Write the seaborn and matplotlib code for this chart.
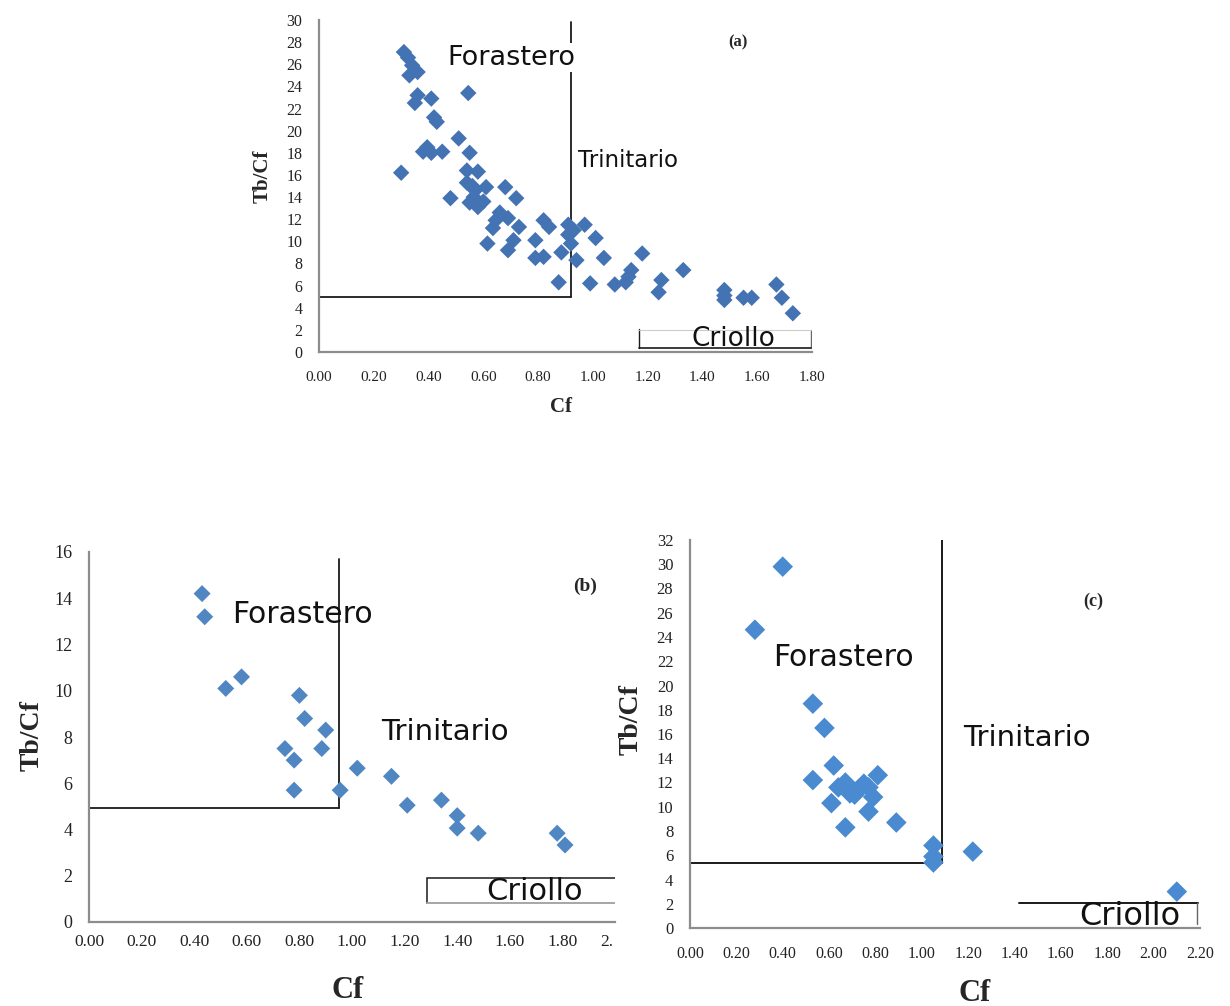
import matplotlib
matplotlib.use("Agg")
import matplotlib.pyplot as plt
import seaborn as sns
import pandas as pd
import numpy as np
from matplotlib.patches import Rectangle

# ---------------- data ----------------
a_cf = [0.31, 0.325, 0.34, 0.36, 0.33, 0.36, 0.35, 0.41, 0.42, 0.43, 0.545, 0.395, 0.38, 0.41,
        0.45, 0.51, 0.55, 0.30, 0.54, 0.58, 0.48, 0.54, 0.57, 0.61, 0.55, 0.58, 0.565, 0.68,
        0.72, 0.66, 0.645, 0.69, 0.635, 0.73, 0.71, 0.615, 0.69, 0.82, 0.84, 0.79, 0.79, 0.82,
        0.885, 0.91, 0.91, 0.92, 0.94, 0.97, 1.01, 1.04, 0.875, 0.99, 1.08, 1.18, 1.14, 1.13,
        1.12, 1.25, 1.24, 1.33, 1.48, 1.48, 1.48, 1.55, 1.58, 1.67, 1.69, 1.73, 0.60, 0.56, 0.93]
a_tb = [27.1, 26.6, 25.9, 25.3, 25.0, 23.2, 22.5, 22.9, 21.2, 20.8, 23.4, 18.5, 18.1, 18.0,
        18.1, 19.3, 18.0, 16.2, 16.4, 16.3, 13.9, 15.3, 14.6, 14.9, 13.5, 13.1, 14.0, 14.9,
        13.9, 12.6, 11.9, 12.1, 11.2, 11.3, 10.1, 9.8, 9.2, 11.9, 11.3, 10.1, 8.5, 8.6,
        9.0, 11.5, 10.6, 9.8, 8.3, 11.5, 10.3, 8.5, 6.3, 6.2, 6.1, 8.9, 7.4, 6.8,
        6.3, 6.5, 5.4, 7.4, 5.6, 4.7, 5.1, 4.9, 4.9, 6.1, 4.9, 3.5, 13.6, 15.0, 11.0]

b_cf = [0.43, 0.44, 0.52, 0.58, 0.80, 0.82, 0.90, 0.745, 0.78, 0.885, 0.78, 0.955, 1.02, 1.15,
        1.21, 1.34, 1.40, 1.40, 1.48, 1.78, 1.81]
b_tb = [14.2, 13.2, 10.1, 10.6, 9.8, 8.8, 8.3, 7.5, 7.0, 7.5, 5.7, 5.7, 6.65, 6.3,
        5.05, 5.27, 4.6, 4.06, 3.84, 3.84, 3.33]

c_cf = [0.40, 0.28, 0.53, 0.58, 0.62, 0.53, 0.81, 0.61, 0.67, 0.69, 0.73, 0.77, 0.79, 0.77,
        0.67, 0.89, 1.05, 1.05, 1.05, 1.22, 2.10, 0.64, 0.71, 0.75]
c_tb = [29.8, 24.6, 18.5, 16.5, 13.4, 12.2, 12.6, 10.3, 12.0, 11.1, 11.5, 11.6, 10.8, 9.6,
        8.3, 8.7, 6.8, 5.9, 5.4, 6.3, 3.0, 11.6, 11.0, 11.9]

# classification boundary lines (data units)
a_vline_x, a_hline_y, a_top = 0.92, 5.0, 29.8
b_vline_x, b_hline_y, b_top = 0.95, 4.92, 15.7
c_vline_x, c_hline_y, c_top = 1.086, 5.4, 32.0

groups = ["Forastero", "Trinitario", "Criollo"]
panel_tags = ["(a)", "(b)", "(c)"]

# ---------------- style ----------------
sns.set_theme(style="white")
plt.rcParams['font.family'] = ['Liberation Serif', 'DejaVu Serif']
SANS = ['DejaVu Sans']

fig = plt.figure(figsize=(12.3, 10.06), dpi=100)
W, H = 1230, 1006


def px_axes(x0, x1, y_top, y_bot):
    return fig.add_axes([x0 / W, 1 - y_bot / H, (x1 - x0) / W, (y_bot - y_top) / H])


axA = px_axes(319, 812, 20, 352)
axB = px_axes(89, 615, 552, 922)
axC = px_axes(690, 1200, 540, 928)

spine_col = "#8c8c8c"
line_col = "#1a1a1a"


def style_axes(ax, xmax, ymax, ystep, xstep, xfs, yfs, ticks_visible, xpad, ypad):
    ax.set_xlim(0, xmax)
    ax.set_ylim(0, ymax)
    ax.set_xticks(np.round(np.arange(0, xmax + 1e-6, xstep), 2))
    ax.set_yticks(np.arange(0, ymax + 1e-6, ystep))
    ax.xaxis.set_major_formatter(matplotlib.ticker.FormatStrFormatter('%.2f'))
    for s in ["top", "right"]:
        ax.spines[s].set_visible(False)
    for s in ["left", "bottom"]:
        ax.spines[s].set_color(spine_col)
        ax.spines[s].set_linewidth(1.6)
    ax.tick_params(axis='x', labelsize=xfs, colors="#222222", pad=xpad,
                   length=4 if ticks_visible else 0, direction='inout', width=1)
    ax.tick_params(axis='y', labelsize=yfs, colors="#222222", pad=ypad,
                   length=5 if ticks_visible else 0, direction='out', width=1)
    ax.grid(False)
    ax.set_facecolor("white")


# ---------------- panel (a) ----------------
dfa = pd.DataFrame({"Cf": a_cf, "Tb/Cf": a_tb})
sns.scatterplot(data=dfa, x="Cf", y="Tb/Cf", ax=axA, marker="D", s=70,
                color="#4473b4", edgecolor="none", zorder=3)
style_axes(axA, 1.8, 30, 2, 0.2, 11, 11.5, False, 14, 12)
axA.plot([0, a_vline_x], [a_hline_y, a_hline_y], color=line_col, lw=1.3, zorder=2)
axA.plot([a_vline_x, a_vline_x], [a_hline_y, a_top], color=line_col, lw=1.3, zorder=2)
axA.text(0.47, 26.6, groups[0], fontsize=19.5, family=SANS, va='center',
         color="#111111", zorder=4,
         bbox=dict(facecolor='white', edgecolor='none', pad=1))
axA.text(0.947, 17.3, groups[1], fontsize=16.5, family=SANS, va='center',
         color="#111111", zorder=4)
axA.plot([1.17, 1.17], [0.35, 2.1], color=line_col, lw=1.0)
axA.plot([1.795, 1.795], [0.35, 2.0], color="#666666", lw=1.0)
axA.plot([1.17, 1.795], [0.35, 0.35], color=line_col, lw=1.2)
axA.plot([1.17, 1.795], [2.0, 2.0], color="#cccccc", lw=0.8)
axA.text(1.36, 1.15, groups[2], fontsize=19, family=SANS, va='center',
         color="#111111")
axA.text(1.53, 28.0, panel_tags[0], fontsize=12, fontweight='bold', ha='center', va='center')
axA.set_xlabel("Cf", fontsize=15, fontweight='bold')
axA.set_ylabel("Tb/Cf", fontsize=15, fontweight='bold')
axA.xaxis.set_label_coords(0.49, -0.135)
axA.yaxis.set_label_coords(-0.095, 0.53)

# ---------------- panel (b) ----------------
dfb = pd.DataFrame({"Cf": b_cf, "Tb/Cf": b_tb})
sns.scatterplot(data=dfb, x="Cf", y="Tb/Cf", ax=axB, marker="D", s=75,
                color="#5087c2", edgecolor="none", zorder=3)
style_axes(axB, 2.0, 16, 2, 0.2, 12.5, 13, True, 7, 7)
axB.plot([0, b_vline_x], [b_hline_y, b_hline_y], color=line_col, lw=1.3, zorder=2)
axB.plot([b_vline_x, b_vline_x], [b_hline_y, b_top], color=line_col, lw=1.3, zorder=2)
axB.text(0.545, 13.3, groups[0], fontsize=21.5, family=SANS, va='center',
         color="#111111")
axB.text(1.11, 8.2, groups[1], fontsize=21, family=SANS, va='center',
         color="#111111")
axB.add_patch(Rectangle((1.285, 0.82), 0.75, 1.08, fill=False, edgecolor=line_col,
                        lw=1.1, clip_on=True))
axB.plot([1.285, 2.0], [0.82, 0.82], color="#bbbbbb", lw=1.2)
axB.text(1.51, 1.32, groups[2], fontsize=22, family=SANS, va='center',
         color="#111111")
axB.text(1.885, 14.5, panel_tags[1], fontsize=14, fontweight='bold', ha='center', va='center')
axB.set_xlabel("Cf", fontsize=22, fontweight='bold')
axB.set_ylabel("Tb/Cf", fontsize=20, fontweight='bold')
axB.xaxis.set_label_coords(0.492, -0.145)
axB.yaxis.set_label_coords(-0.085, 0.505)

# ---------------- panel (c) ----------------
dfc = pd.DataFrame({"Cf": c_cf, "Tb/Cf": c_tb})
sns.scatterplot(data=dfc, x="Cf", y="Tb/Cf", ax=axC, marker="D", s=110,
                color="#4a8ad0", edgecolor="none", zorder=3)
style_axes(axC, 2.2, 32, 2, 0.2, 11.5, 12, False, 13, 12)
axC.plot([0, c_vline_x], [c_hline_y, c_hline_y], color=line_col, lw=1.4, zorder=2)
axC.plot([c_vline_x, c_vline_x], [c_hline_y, c_top], color=line_col, lw=1.4, zorder=2)
axC.text(0.36, 22.3, groups[0], fontsize=21.5, family=SANS, va='center',
         color="#111111")
axC.text(1.18, 15.7, groups[1], fontsize=21, family=SANS, va='center',
         color="#111111")
axC.plot([1.42, 2.19], [2.06, 2.06], color=line_col, lw=1.4)
axC.plot([2.185, 2.185], [0.3, 2.06], color="#666666", lw=1.0)
axC.text(1.68, 0.95, groups[2], fontsize=23, family=SANS, va='center',
         color="#111111")
axC.text(1.74, 26.9, panel_tags[2], fontsize=13, fontweight='bold', ha='center', va='center')
axC.set_xlabel("Cf", fontsize=22, fontweight='bold')
axC.set_ylabel("Tb/Cf", fontsize=20, fontweight='bold')
axC.xaxis.set_label_coords(0.559, -0.132)
axC.yaxis.set_label_coords(-0.09, 0.536)

# crop of the (b) x-axis at the right edge, as in the reference
fig.patches.append(Rectangle((612 / W, 1 - 958 / H), 20 / W, 33 / H, transform=fig.transFigure,
                             facecolor='white', edgecolor='none', zorder=10))

fig.savefig("out.png", dpi=100, facecolor="white")
